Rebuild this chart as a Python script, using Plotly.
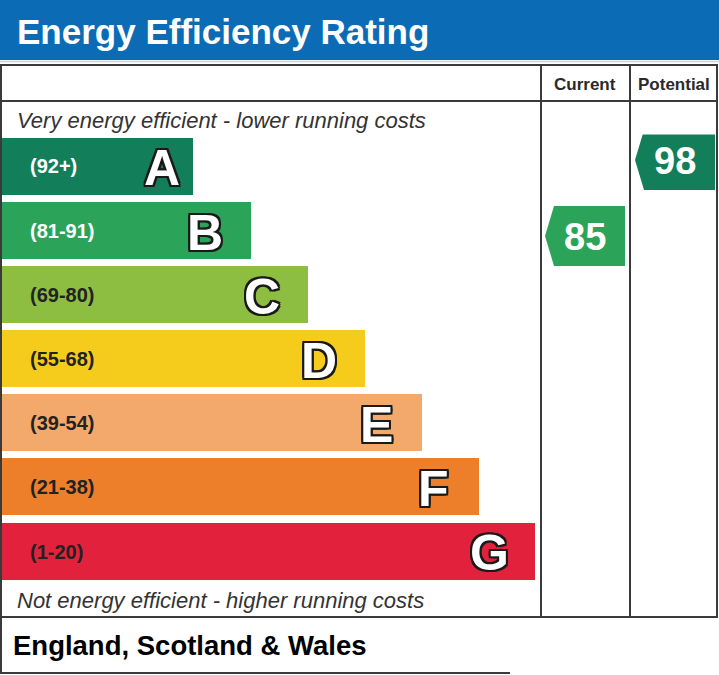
import plotly.graph_objects as go

W, H = 719, 675

# rating bands, top (best) to bottom (worst)
bands = ["A", "B", "C", "D", "E", "F", "G"]
ranges = ["(92+)", "(81-91)", "(69-80)", "(55-68)", "(39-54)", "(21-38)", "(1-20)"]
band_min = [92, 81, 69, 55, 39, 21, 1]
band_max = [100, 91, 80, 68, 54, 38, 20]
bar_len = [193, 251, 308, 365, 422, 479, 535]
band_colors = ["#127f5a", "#2ba45a", "#8dbe42", "#f5cc1c", "#f2a96b", "#ed7f2a", "#e2213d"]
range_font_colors = ["white", "white", "#222222", "#222222", "#222222", "#222222", "#222222"]

current_rating = 85
potential_rating = 98

FONT = "Liberation Sans, Arial, sans-serif"
LINE = "#3a3a3a"


def band_of(rating):
    for i, lo in enumerate(band_min):
        if rating >= lo:
            return i
    return len(band_min) - 1


def rating_pos(rating):
    # arrow sits in its band, nudged a little by where the rating falls inside it
    i = band_of(rating)
    frac = (rating - band_min[i]) / (band_max[i] - band_min[i] + 1)
    return i + (0.5 - frac) * 0.6


def px(x):
    return x / W


def py(y):
    return 1 - y / H


fig = go.Figure()

# the coloured bands
fig.add_trace(go.Bar(
    orientation="h", x=bar_len, y=list(range(len(bands))),
    width=57 / 64.17, marker=dict(color=band_colors, line=dict(width=0)),
    hoverinfo="skip", showlegend=False,
))

# range labels and band letters
outline = ", ".join(f"{dx}px {dy}px 0 #1a1a1a" for dx, dy in
                    [(-2, -2), (2, -2), (-2, 2), (2, 2), (0, 2), (2, 0), (0, -2), (-2, 0)])
for i, b in enumerate(bands):
    fig.add_annotation(x=28, y=i, xref="x", yref="y", text=ranges[i], showarrow=False,
                       xanchor="left", yanchor="middle",
                       font=dict(family=FONT, size=20, color=range_font_colors[i], weight="bold"))
    inset = 31 if i == 0 else 46
    fig.add_annotation(x=bar_len[i] - inset, y=i + 0.03, xref="x", yref="y", text=b,
                       showarrow=False, xanchor="center", yanchor="middle",
                       font=dict(family=FONT, size=50, color="white", weight="bold", shadow=outline))

# current / potential arrows
half = 0.4675
for rating, (x0, x1) in [(current_rating, (545, 625)), (potential_rating, (635, 715))]:
    i = band_of(rating)
    yc = rating_pos(rating)
    tip = 9
    fig.add_trace(go.Scatter(
        x=[x0, x0 + tip, x1, x1, x0 + tip, x0],
        y=[yc, yc - half, yc - half, yc + half, yc + half, yc],
        fill="toself", fillcolor=band_colors[i], mode="lines", line=dict(width=0),
        hoverinfo="skip", showlegend=False,
    ))
    fig.add_annotation(x=(x0 + x1) / 2, y=yc + 0.02, xref="x", yref="y", text=str(rating),
                       showarrow=False, xanchor="center", yanchor="middle",
                       font=dict(family=FONT, size=38, color="white", weight="bold"))

shapes = [
    # header band
    dict(type="rect", xref="paper", yref="paper", x0=0, x1=1, y0=py(60), y1=1,
         fillcolor="#0b6cb5", line=dict(width=0), layer="below"),
    dict(type="line", xref="paper", yref="paper", x0=0, x1=1, y0=py(61.5), y1=py(61.5),
         line=dict(color="#c8d4e0", width=1.5)),
    # table frame
    dict(type="rect", xref="paper", yref="paper", x0=px(1), x1=px(717), y0=py(617), y1=py(65),
         line=dict(color=LINE, width=2)),
    dict(type="line", xref="paper", yref="paper", x0=px(1), x1=px(717), y0=py(101), y1=py(101),
         line=dict(color=LINE, width=2)),
    dict(type="line", xref="paper", yref="paper", x0=px(541), x1=px(541), y0=py(65), y1=py(617),
         line=dict(color=LINE, width=2)),
    dict(type="line", xref="paper", yref="paper", x0=px(630), x1=px(630), y0=py(65), y1=py(617),
         line=dict(color=LINE, width=2)),
    # footer box
    dict(type="line", xref="paper", yref="paper", x0=px(1), x1=px(1), y0=py(617), y1=py(673),
         line=dict(color=LINE, width=2)),
    dict(type="line", xref="paper", yref="paper", x0=0, x1=px(510), y0=py(673), y1=py(673),
         line=dict(color=LINE, width=2)),
]

texts = [
    dict(x=px(15), y=py(31), text="Energy Efficiency Rating", xanchor="left",
         font=dict(family=FONT, size=35, color="white", weight="bold")),
    dict(x=px(585), y=py(84), text="Current", xanchor="center",
         font=dict(family=FONT, size=17, color="#2a2a2a", weight="bold")),
    dict(x=px(674), y=py(84), text="Potential", xanchor="center",
         font=dict(family=FONT, size=17, color="#2a2a2a", weight="bold")),
    dict(x=px(15), y=py(120), text="Very energy efficient - lower running costs", xanchor="left",
         font=dict(family=FONT, size=22, color="#333333", style="italic")),
    dict(x=px(15), y=py(600), text="Not energy efficient - higher running costs", xanchor="left",
         font=dict(family=FONT, size=22, color="#333333", style="italic")),
    dict(x=px(11), y=py(645), text="England, Scotland & Wales", xanchor="left",
         font=dict(family=FONT, size=27.5, color="black", weight="bold")),
]
for t in texts:
    fig.add_annotation(xref="paper", yref="paper", yanchor="middle", showarrow=False, **t)

fig.update_layout(
    width=W, height=H, margin=dict(l=0, r=0, t=0, b=0),
    paper_bgcolor="white", plot_bgcolor="rgba(0,0,0,0)",
    shapes=shapes, bargap=0, showlegend=False,
    xaxis=dict(range=[0, W], domain=[0, 1], visible=False, fixedrange=True),
    yaxis=dict(range=[6.5, -0.5], domain=[py(583.6), py(134.4)], visible=False, fixedrange=True),
)

fig.write_html("out.html", config={"displayModeBar": False},
               post_script="document.body.style.margin='0';")
